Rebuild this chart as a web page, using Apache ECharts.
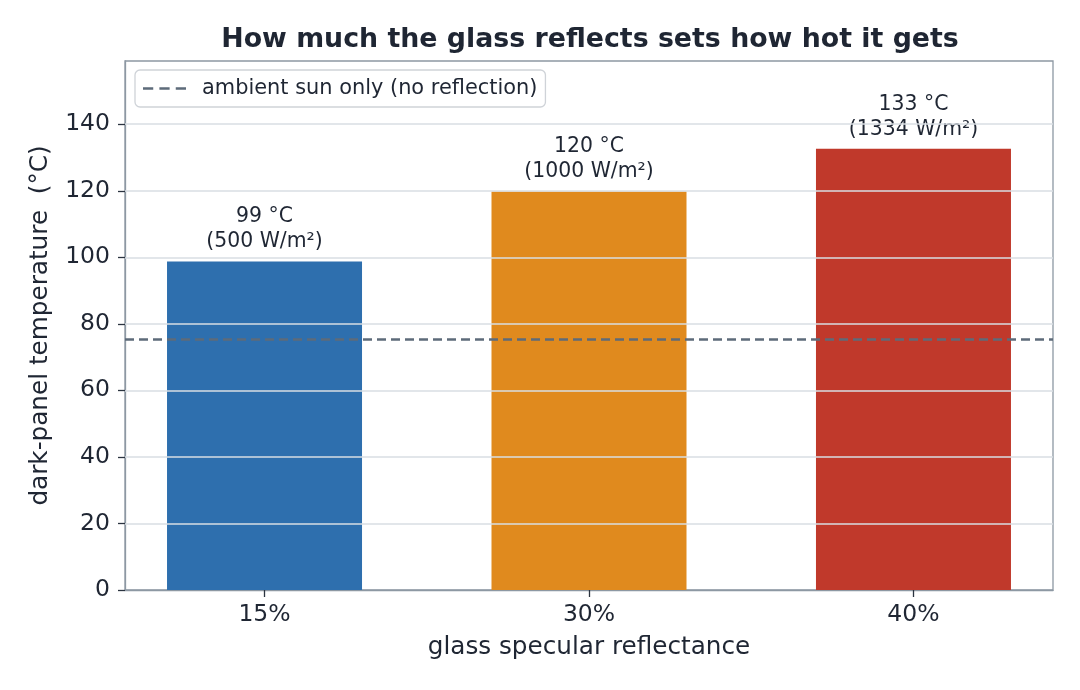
<!DOCTYPE html>
<html>
<head>
<meta charset="utf-8">
<script src="https://cdn.jsdelivr.net/npm/echarts@6/dist/echarts.min.js"></script>
<style>
  html, body { margin: 0; padding: 0; background: #fff; }
  #chart { width: 1080px; height: 690px; }
</style>
</head>
<body>
<div id="chart"></div>
<script>
const categories = ['15%', '30%', '40%'];
const temps = [98.7, 119.8, 132.6];
const tempLabels = ['99', '120', '133'];
const flux = ['500', '1000', '1334'];
const barColors = ['#2e6fae', '#e08a1e', '#c0392b'];
const ambient = 75.3;
const yTicks = [0, 20, 40, 60, 80, 100, 120, 140];
const xRange = [-0.43, 2.43];
const yMax = 159;

const textColor = '#1f2633';
const axisColor = '#8d98a3';
const font = 'DejaVu Sans';

const myChart = echarts.init(document.getElementById('chart'));

const option = {
  backgroundColor: '#fff',
  textStyle: { fontFamily: font, color: textColor },
  title: {
    text: 'How much the glass reflects sets how hot it gets',
    left: 585,
    top: 22,
    textAlign: 'center',
    textStyle: { fontFamily: font, fontSize: 26.8, fontWeight: 'bold', color: textColor }
  },
  legend: {
    data: [{
      name: 'ambient sun only (no reflection)',
      icon: 'path://M0,0h10v2.5H0z M16,0h10v2.5H16z M32,0h10v2.5H32z'
    }],
    left: 135,
    top: 70,
    padding: [8, 8, 8, 8],
    borderColor: '#cfd3d8',
    borderWidth: 1.3,
    borderRadius: 5,
    itemWidth: 43,
    itemHeight: 3,
    textStyle: { fontFamily: font, fontSize: 20.9, color: textColor, padding: [0, 0, 0, 11] }
  },
  grid: {
    left: 125,
    right: 27,
    top: 61,
    bottom: 100,
    show: true,
    borderColor: axisColor,
    borderWidth: 1.3
  },
  xAxis: {
    type: 'value',
    min: xRange[0],
    max: xRange[1],
    name: 'glass specular reflectance',
    nameLocation: 'middle',
    nameGap: 45,
    nameTextStyle: { fontFamily: font, fontSize: 24.7, color: textColor },
    axisLine: { onZero: false, lineStyle: { color: axisColor, width: 1.3 } },
    axisTick: { customValues: [0, 1, 2], length: 7, lineStyle: { color: '#2b3440', width: 1.3 } },
    axisLabel: {
      customValues: [0, 1, 2],
      formatter: v => categories[Math.round(v)],
      fontFamily: font, fontSize: 23.5, color: textColor, margin: 13
    },
    splitLine: { show: false }
  },
  yAxis: {
    type: 'value',
    min: 0,
    max: yMax,
    name: 'dark-panel temperature  (°C)',
    nameLocation: 'middle',
    nameGap: 72,
    nameTextStyle: { fontFamily: font, fontSize: 24.7, color: textColor },
    axisLine: { show: true, onZero: false, lineStyle: { color: axisColor, width: 1.3 } },
    axisTick: { show: true, customValues: yTicks, length: 7, lineStyle: { color: '#2b3440', width: 1.3 } },
    axisLabel: { customValues: yTicks, fontFamily: font, fontSize: 23.5, color: textColor, margin: 15 },
    splitLine: { show: false }
  },
  series: [
    {
      name: 'temps',
      type: 'bar',
      barWidth: 195,
      z: 2,
      data: temps.map((t, i) => ({ value: [i, t], itemStyle: { color: barColors[i] } })),
      label: {
        show: true,
        position: 'top',
        distance: 7,
        fontFamily: font,
        fontSize: 20.4,
        lineHeight: 25,
        color: textColor,
        formatter: p => tempLabels[p.dataIndex] + ' °C\n(' + flux[p.dataIndex] + ' W/m²)'
      }
    },
    {
      name: 'grid',
      type: 'line',
      data: [],
      z: 4,
      silent: true,
      markLine: {
        silent: true,
        symbol: 'none',
        label: { show: false },
        lineStyle: { color: '#d9dee3', width: 1.5, type: 'solid' },
        data: yTicks.slice(1).map(v => ({ yAxis: v }))
      }
    },
    {
      name: 'ambient sun only (no reflection)',
      type: 'line',
      z: 5,
      symbol: 'none',
      silent: true,
      data: [[xRange[0], ambient], [xRange[1], ambient]],
      lineStyle: { color: '#5d6b7a', width: 2.5, type: [9, 5] },
      itemStyle: { color: '#5d6b7a' }
    }
  ]
};

myChart.setOption(option);
</script>
</body>
</html>
